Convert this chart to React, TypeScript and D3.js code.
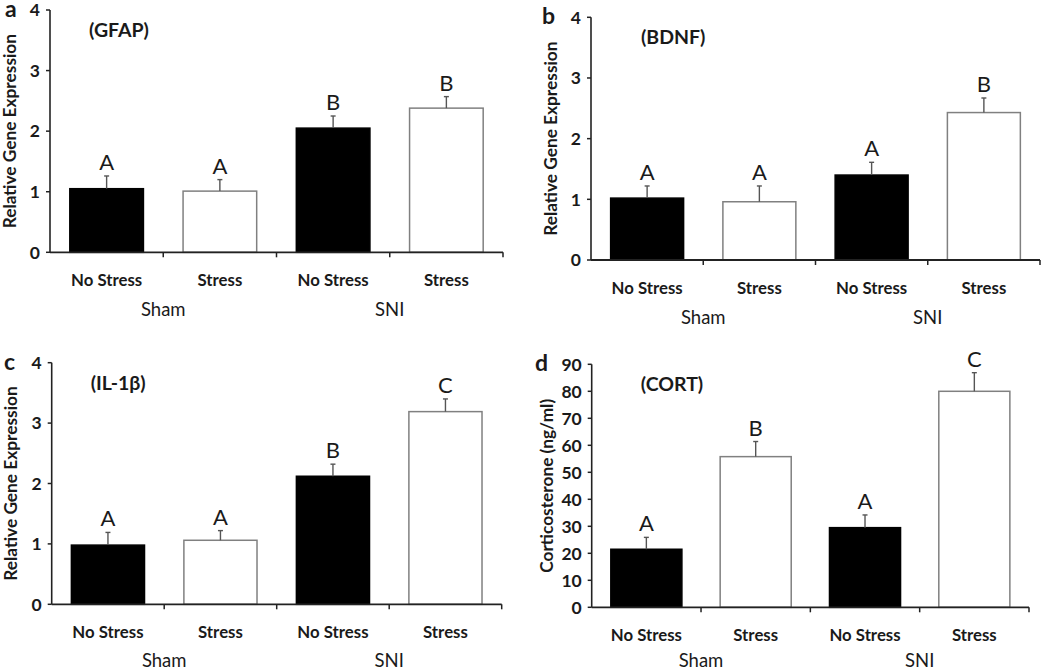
import React from "react";
import * as d3 from "d3";

// ---- data ----
const categories = ["No Stress", "Stress", "No Stress", "Stress"];
const groups = ["Sham", "SNI"];
const barFills = ["black", "white", "black", "white"];

const gfapMeans = [1.05, 1.01, 2.05, 2.38];
const gfapErr = [0.21, 0.19, 0.2, 0.19];
const gfapLetters = ["A", "A", "B", "B"];

const bdnfMeans = [1.02, 0.96, 1.4, 2.43];
const bdnfErr = [0.2, 0.26, 0.21, 0.24];
const bdnfLetters = ["A", "A", "A", "B"];

const il1bMeans = [0.98, 1.06, 2.12, 3.19];
const il1bErr = [0.21, 0.16, 0.2, 0.21];
const il1bLetters = ["A", "A", "B", "C"];

const cortMeans = [21.5, 55.8, 29.5, 80.0];
const cortErr = [4.4, 5.6, 4.7, 6.9];
const cortLetters = ["A", "B", "A", "C"];

const geneTicks = [0, 1, 2, 3, 4];
const cortTicks = [0, 10, 20, 30, 40, 50, 60, 70, 80, 90];

// ---- layout ----
const FONT = "Lato, 'Open Sans', sans-serif";
const INK = "#1a1a1a";

type PanelProps = {
  letter: string;
  letterX: number;
  title: string;
  yTitle: string;
  means: number[];
  errs: number[];
  sig: string[];
  ticks: number[];
  yMax: number;
  x0: number;
  x1: number;
  yBottom: number;
  yTop: number;
  titleDx: number;
  yTitleX: number;
};

function Panel(p: PanelProps) {
  const idx = categories.map((_, i) => String(i));
  const x = d3
    .scaleBand<string>()
    .domain(idx)
    .range([p.x0, p.x1])
    .paddingInner(0.35)
    .paddingOuter(0.175);
  const y = d3.scaleLinear().domain([0, p.yMax]).range([p.yBottom, p.yTop]);
  const step = x.step();
  const bw = x.bandwidth();
  const yMid = (p.yBottom + p.yTop) / 2;
  const bounds = d3.range(categories.length + 1).map((i) => p.x0 + i * step);
  const groupY = Math.min(p.yBottom + 64, 666.5);

  return (
    <g fontFamily={FONT} fill={INK}>
      {/* panel letter */}
      <text x={p.letterX} y={p.yTop + 7} fontSize={23} fontWeight="bold">
        {p.letter}
      </text>
      {/* inner title */}
      <text x={p.x0 + p.titleDx} y={p.yTop + 27} fontSize={19.5} fontWeight="bold">
        {p.title}
      </text>
      {/* y title */}
      <text
        transform={`translate(${p.yTitleX},${yMid}) rotate(-90)`}
        textAnchor="middle"
        fontSize={17.3}
        fontWeight="bold"
      >
        {p.yTitle}
      </text>
      {/* bars */}
      {p.means.map((m, i) => {
        const bx = x(String(i))!;
        const cx = bx + bw / 2;
        const top = y(m);
        const errTop = y(m + p.errs[i]);
        const white = barFills[i] === "white";
        return (
          <g key={i}>
            <rect
              x={bx}
              y={top}
              width={bw}
              height={p.yBottom - top}
              fill={barFills[i]}
              stroke={white ? "#808080" : "black"}
              strokeWidth={1.5}
            />
            <line x1={cx} x2={cx} y1={top} y2={errTop} stroke="#555" strokeWidth={1.4} />
            <line x1={cx - 2.5} x2={cx + 2.5} y1={errTop} y2={errTop} stroke="#555" strokeWidth={1.4} />
            <text x={cx} y={errTop - 6} textAnchor="middle" fontSize={22}>
              {p.sig[i]}
            </text>
            <text
              x={cx}
              y={p.yBottom + 34}
              textAnchor="middle"
              fontSize={16.8}
              fontWeight="bold"
            >
              {categories[i]}
            </text>
          </g>
        );
      })}
      {/* group labels */}
      {groups.map((g, gi) => (
        <text
          key={g}
          x={bounds[gi * 2 + 1]}
          y={groupY}
          textAnchor="middle"
          fontSize={18.5}
        >
          {g}
        </text>
      ))}
      {/* y axis */}
      <line x1={p.x0} x2={p.x0} y1={p.yTop} y2={p.yBottom} stroke="#222" strokeWidth={1.6} />
      {p.ticks.map((t) => (
        <g key={t}>
          <line x1={p.x0 - 4} x2={p.x0} y1={y(t)} y2={y(t)} stroke="#222" strokeWidth={1.5} />
          <text
            x={p.x0 - 10}
            y={y(t)}
            dy="0.36em"
            textAnchor="end"
            fontSize={17.5}
            fontWeight="bold"
          >
            {t}
          </text>
        </g>
      ))}
      {/* x axis */}
      <line x1={p.x0} x2={p.x1} y1={p.yBottom} y2={p.yBottom} stroke="#222" strokeWidth={1.8} />
      {bounds.slice(1).map((bx, i) => (
        <line key={i} x1={bx} x2={bx} y1={p.yBottom} y2={p.yBottom + 5} stroke="#222" strokeWidth={1.5} />
      ))}
    </g>
  );
}

export default function App() {
  return (
    <svg
      width={1050}
      height={671}
      style={{ position: "absolute", left: 0, top: 0, background: "white" }}
    >
      <rect width={1050} height={671} fill="white" />
      <Panel
        letter="a"
        letterX={5}
        title="(GFAP)"
        yTitle="Relative Gene Expression"
        means={gfapMeans}
        errs={gfapErr}
        sig={gfapLetters}
        ticks={geneTicks}
        yMax={4}
        x0={50}
        x1={503}
        yBottom={252.3}
        yTop={10}
        titleDx={39}
        yTitleX={16}
      />
      <Panel
        letter="b"
        letterX={542}
        title="(BDNF)"
        yTitle="Relative Gene Expression"
        means={bdnfMeans}
        errs={bdnfErr}
        sig={bdnfLetters}
        ticks={geneTicks}
        yMax={4}
        x0={591}
        x1={1040}
        yBottom={260}
        yTop={17.3}
        titleDx={50}
        yTitleX={556.5}
      />
      <Panel
        letter="c"
        letterX={4}
        title="(IL-1β)"
        yTitle="Relative Gene Expression"
        means={il1bMeans}
        errs={il1bErr}
        sig={il1bLetters}
        ticks={geneTicks}
        yMax={4}
        x0={51.7}
        x1={501.7}
        yBottom={604.3}
        yTop={362.7}
        titleDx={39}
        yTitleX={16.5}
      />
      <Panel
        letter="d"
        letterX={535}
        title="(CORT)"
        yTitle="Corticosterone (ng/ml)"
        means={cortMeans}
        errs={cortErr}
        sig={cortLetters}
        ticks={cortTicks}
        yMax={90}
        x0={591.7}
        x1={1029}
        yBottom={607.3}
        yTop={364.3}
        titleDx={49}
        yTitleX={553}
      />
    </svg>
  );
}
